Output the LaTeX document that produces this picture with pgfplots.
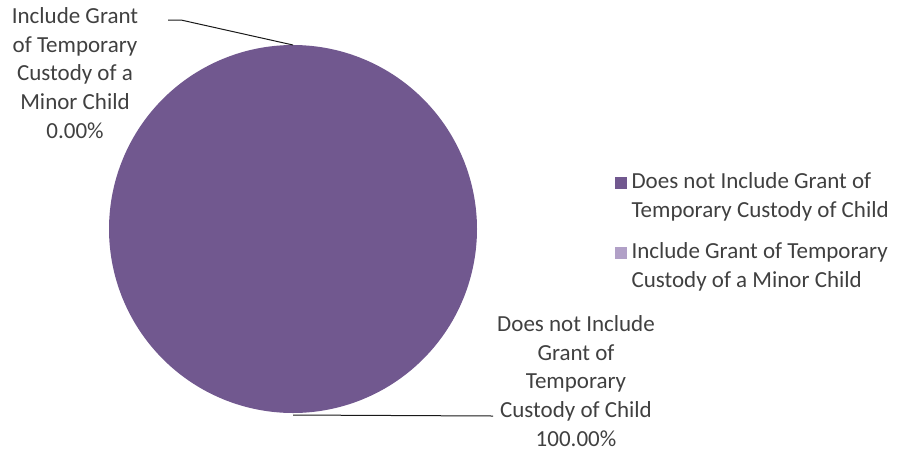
\documentclass[border=0pt]{standalone}
\usepackage{fontspec}
\setmainfont{Carlito}
\usepackage{pgfplots}
\usepackage{pgfplotstable}
\pgfplotsset{compat=1.18}
\definecolor{pieA}{HTML}{71588F}
\definecolor{pieB}{HTML}{B1A0C7}
\definecolor{txt}{HTML}{404040}
\pgfplotstableread{
label value
DoesNot 100
Include 0
}\piedata
\pgfplotstablegetelem{0}{value}\of\piedata
\edef\valA{\pgfplotsretval}
\begin{document}
\begin{tikzpicture}
\begin{axis}[
  x=1pt, y=1pt,
  xmin=0, xmax=899, ymin=0, ymax=451,
  y dir=reverse,
  hide axis, clip=false,
]
\path (axis cs:0,0) rectangle (axis cs:899,451);
% pie slice (starts at 12 o'clock, clockwise)
\addplot[fill=pieA, draw=none, domain=0:3.6*\valA, samples=241]
  ({293+184*sin(x)},{229-184*cos(x)}) -- cycle;
% leader lines
\addplot[black!90, line width=1pt] coordinates {(168,20) (181,20) (293,45)};
\addplot[black!90, line width=1pt] coordinates {(293,415) (493,416)};
% data labels
\node[align=center, text=txt, font=\fontsize{23}{28.8}\selectfont] at (axis cs:75,73)
  {Include Grant\\of Temporary\\Custody of a\\Minor Child\\0.00\%};
\node[align=center, text=txt, font=\fontsize{23}{28.8}\selectfont] at (axis cs:576,381)
  {Does not Include\\Grant of\\Temporary\\Custody of Child\\100.00\%};
% legend
\addplot[only marks, mark=square*, mark size=5.5pt, color=pieA] coordinates {(621,183)};
\addplot[only marks, mark=square*, mark size=5.5pt, color=pieB] coordinates {(621,253)};
\node[anchor=west, align=left, text=txt, font=\fontsize{23}{28.8}\selectfont] at (axis cs:628,197)
  {Does not Include Grant of\\Temporary Custody of Child};
\node[anchor=west, align=left, text=txt, font=\fontsize{23}{28.8}\selectfont] at (axis cs:628,267)
  {Include Grant of Temporary\\Custody of a Minor Child};
\end{axis}
\end{tikzpicture}
\end{document}
